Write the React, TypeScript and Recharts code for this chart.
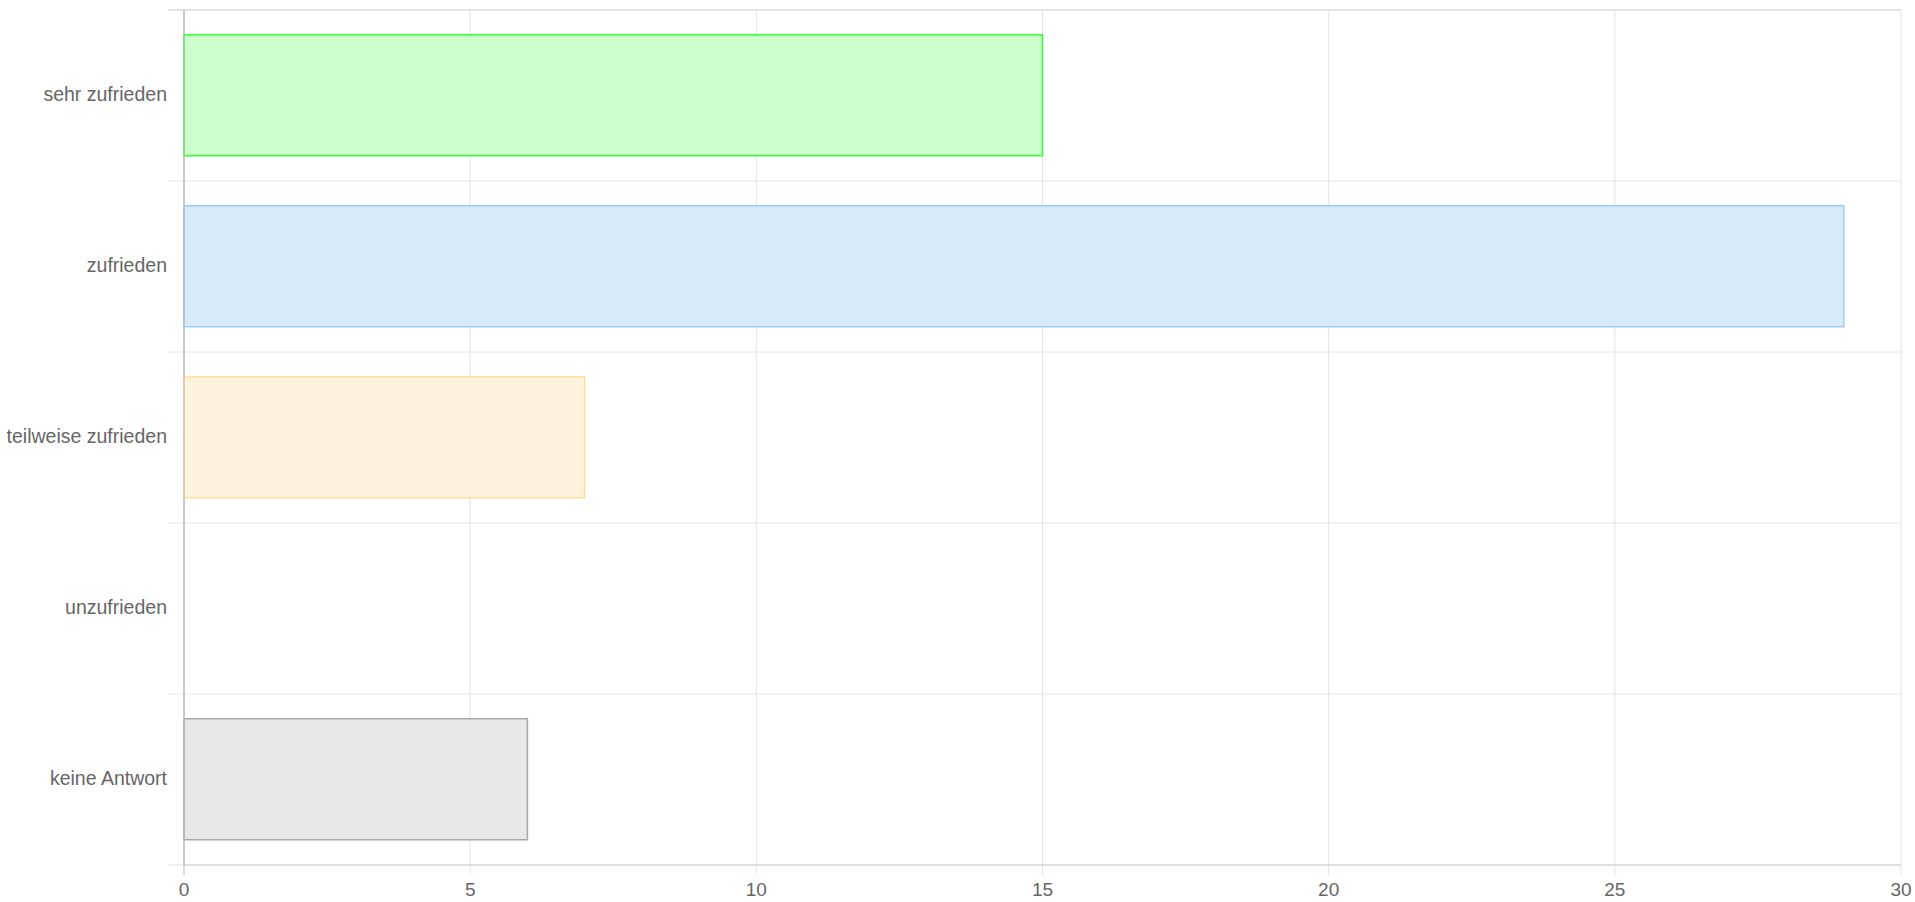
import { BarChart, Bar, XAxis, YAxis, CartesianGrid, Cell } from "recharts";

// Zufriedenheit – Anzahl Antworten
const categories = ["sehr zufrieden", "zufrieden", "teilweise zufrieden", "unzufrieden", "keine Antwort"];
const counts = [15, 29, 7, 0, 6];
const xTicks = [0, 5, 10, 15, 20, 25, 30];

const fills = ["#ccffcc", "#d6eaf8", "#fff3de", "#ffdede", "#e8e8e8"];
const strokes = ["#33ff33", "#9ccff5", "#ffe09a", "#ff9aa8", "#a8a8a8"];

const FONT = '"Liberation Sans", Arial, sans-serif';
const TEXT = "#666";

const data = categories.map((name, i) => ({ name, value: counts[i] }));

const App = () => {
  // grid lines sit on the category boundaries (chart.js style), not the centers
  const boundaryLines = ({ offset }: any) =>
    Array.from({ length: categories.length + 1 }, (_, i) => offset.top + (i * offset.height) / categories.length);

  const renderHLine = (props: any) => {
    const { x1, x2, y1, index } = props;
    return (
      <line
        key={`h-${index}`}
        x1={x1 - 16}
        x2={x2}
        y1={y1}
        y2={y1}
        stroke={index === 0 ? "#c8c8c8" : "#e6e6e6"}
        strokeWidth={1}
      />
    );
  };

  const renderVLine = (props: any) => {
    const { x1, y1, y2, index } = props;
    return (
      <line
        key={`v-${index}`}
        x1={x1}
        x2={x1}
        y1={y1}
        y2={y2 + 10}
        stroke={index === 0 ? "#b8b8b8" : "#e3e3e3"}
        strokeWidth={1}
      />
    );
  };

  const renderYTick = (props: any) => {
    const { x, y, payload } = props;
    return (
      <text x={x} y={y} dy="0.3em" textAnchor="end" fill={TEXT} fontSize={19.5} fontFamily={FONT}>
        {payload.value}
      </text>
    );
  };

  return (
    <div style={{ position: "absolute", left: 0, top: 0, background: "#fff" }}>
      <BarChart
        width={1915}
        height={902}
        data={data}
        layout="vertical"
        margin={{ top: 10, right: 14, bottom: 0, left: 0 }}
        barCategoryGap="14.5%"
      >
        <CartesianGrid
          horizontalCoordinatesGenerator={boundaryLines}
          horizontal={renderHLine}
          vertical={renderVLine}
        />
        <XAxis
          type="number"
          domain={[0, 30]}
          ticks={xTicks}
          height={37}
          tickLine={false}
          tickSize={10}
          tickMargin={8}
          axisLine={{ stroke: "#cccccc" }}
          tick={{ fill: TEXT, fontSize: 19, fontFamily: FONT }}
        />
        <YAxis
          type="category"
          dataKey="name"
          width={184}
          tickLine={false}
          tickSize={16}
          tickMargin={1}
          axisLine={{ stroke: "#b8b8b8" }}
          tick={renderYTick}
        />
        <Bar dataKey="value" strokeWidth={1.5} isAnimationActive={false}>
          {data.map((d, i) => (
            <Cell key={d.name} fill={fills[i]} stroke={strokes[i]} />
          ))}
        </Bar>
      </BarChart>
    </div>
  );
};

export default App;
